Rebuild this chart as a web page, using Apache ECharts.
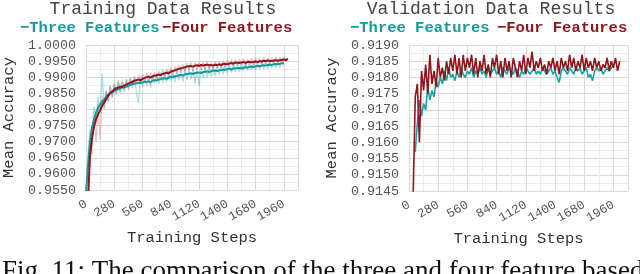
<!DOCTYPE html>
<html><head><meta charset="utf-8">
<script src="https://cdn.jsdelivr.net/npm/echarts@6/dist/echarts.min.js"></script>
<style>html,body{margin:0;padding:0;background:#fff}#c{width:640px;height:274px}</style>
</head><body><div id="c"></div><script>
const FONT = '"Liberation Mono", "Courier New", monospace';
const stepGap = 20;
const titles = ['Training Data Results', 'Validation Data Results'];
const legendNames = ['\u2212Three Features', '\u2212Four Features'];
const caption = 'Fig. 11: The comparison of the three and four feature based';

// Training, three features (smoothed + raw), steps 0..1960
const trainThreeStart = 0;
const trainThree = [0.9545,0.9625,0.9700,0.9745,0.9770,0.9790,0.9805,0.9815,0.9826,0.9830,
0.9840,0.9846,0.9851,0.9853,0.9858,0.9861,0.9863,0.9866,0.9868,0.9869,
0.9871,0.9874,0.9876,0.9879,0.9880,0.9881,0.9883,0.9882,0.9884,0.9885,
0.9886,0.9887,0.9885,0.9889,0.9891,0.9890,0.9893,0.9894,0.9896,0.9897,
0.9895,0.9899,0.9901,0.9900,0.9903,0.9904,0.9906,0.9907,0.9905,0.9909,
0.9910,0.9911,0.9912,0.9910,0.9913,0.9914,0.9915,0.9913,0.9916,0.9917,
0.9918,0.9916,0.9919,0.9920,0.9921,0.9919,0.9922,0.9922,0.9924,0.9923,
0.9925,0.9926,0.9924,0.9927,0.9928,0.9928,0.9929,0.9927,0.9930,0.9931,
0.9930,0.9932,0.9933,0.9932,0.9934,0.9935,0.9934,0.9936,0.9937,0.9936,
0.9938,0.9939,0.9938,0.9940,0.9941,0.9940,0.9942,0.9943,0.9944];
const trainThreeRaw = [0.9545,0.9660,0.9740,0.9720,0.9810,0.9765,0.9840,0.9790,0.9912,0.9805,
0.9860,0.9825,0.9875,0.9835,0.9880,0.9845,0.9890,0.9850,0.9885,0.9855,
0.9895,0.9860,0.9898,0.9865,0.9900,0.9850,0.9820,0.9905,0.9870,0.9900,
0.9872,0.9905,0.9868,0.9908,0.9880,0.9912,0.9878,0.9915,0.9882,0.9918,
0.9885,0.9920,0.9888,0.9915,0.9885,0.9922,0.9890,0.9925,0.9886,0.9926,
0.9892,0.9928,0.9895,0.9925,0.9880,0.9928,0.9872,0.9930,0.9898,0.9932,
0.9900,0.9934,0.9902,0.9935,0.9904,0.9936,0.9908,0.9938,0.9910,0.9940,
0.9912,0.9941,0.9914,0.9942,0.9915,0.9944,0.9916,0.9945,0.9918,0.9946,
0.9920,0.9947,0.9921,0.9948,0.9922,0.9949,0.9924,0.9950,0.9925,0.9951,
0.9926,0.9952,0.9928,0.9953,0.9929,0.9954,0.9930,0.9955,0.9935];

// Training, four features, steps 20..2000
const trainFourStart = 20;
const trainFour = [0.9520,0.9655,0.9712,0.9748,0.9770,0.9785,0.9797,0.9812,0.9822,0.9832,
0.9843,0.9850,0.9856,0.9862,0.9866,0.9868,0.9871,0.9870,0.9874,0.9877,
0.9880,0.9883,0.9886,0.9889,0.9891,0.9893,0.9890,0.9895,0.9898,0.9900,
0.9902,0.9899,0.9903,0.9905,0.9906,0.9908,0.9907,0.9910,0.9912,0.9914,
0.9913,0.9917,0.9920,0.9921,0.9924,0.9926,0.9928,0.9929,0.9931,0.9933,
0.9934,0.9935,0.9933,0.9936,0.9937,0.9935,0.9938,0.9936,0.9938,0.9939,
0.9937,0.9938,0.9936,0.9939,0.9938,0.9940,0.9938,0.9941,0.9942,0.9940,
0.9943,0.9944,0.9942,0.9945,0.9945,0.9944,0.9946,0.9947,0.9945,0.9947,
0.9948,0.9946,0.9948,0.9949,0.9947,0.9950,0.9949,0.9951,0.9950,0.9952,
0.9951,0.9950,0.9952,0.9953,0.9951,0.9953,0.9954,0.9955,0.9953,0.9957];
const trainFourRaw = [0.9520,0.9700,0.9660,0.9780,0.9700,0.9815,0.9705,0.9840,0.9800,0.9855,
0.9825,0.9870,0.9840,0.9880,0.9852,0.9885,0.9858,0.9890,0.9860,0.9892,
0.9866,0.9898,0.9872,0.9903,0.9878,0.9906,0.9880,0.9910,0.9885,0.9913,
0.9890,0.9915,0.9892,0.9916,0.9895,0.9920,0.9897,0.9923,0.9900,0.9925,
0.9903,0.9930,0.9908,0.9934,0.9912,0.9938,0.9915,0.9941,0.9918,0.9944,
0.9922,0.9946,0.9920,0.9945,0.9925,0.9946,0.9924,0.9947,0.9926,0.9948,
0.9925,0.9946,0.9927,0.9950,0.9928,0.9949,0.9930,0.9952,0.9932,0.9953,
0.9934,0.9955,0.9933,0.9955,0.9936,0.9956,0.9937,0.9958,0.9936,0.9957,
0.9939,0.9959,0.9938,0.9960,0.9940,0.9961,0.9941,0.9962,0.9942,0.9962,
0.9943,0.9961,0.9944,0.9963,0.9945,0.9963,0.9947,0.9964,0.9948,0.9960];

// Validation, three features, steps 60..1960
const valThreeStart = 60;
const valThree = [0.91570,0.91660,0.91730,0.91680,0.91720,0.91700,0.91770,0.91730,0.91760,0.91740,
0.91790,0.91770,0.91800,0.91780,0.91820,0.91790,0.91830,0.91800,0.91810,0.91790,
0.91820,0.91800,0.91830,0.91810,0.91800,0.91820,0.91810,0.91830,0.91800,0.91820,
0.91810,0.91830,0.91810,0.91820,0.91800,0.91830,0.91810,0.91820,0.91830,0.91810,
0.91820,0.91800,0.91830,0.91820,0.91810,0.91830,0.91820,0.91810,0.91830,0.91820,
0.91800,0.91820,0.91810,0.91830,0.91820,0.91810,0.91820,0.91830,0.91810,0.91820,
0.91810,0.91830,0.91820,0.91810,0.91820,0.91830,0.91810,0.91820,0.91800,0.91785,
0.91820,0.91830,0.91820,0.91810,0.91830,0.91820,0.91810,0.91830,0.91820,0.91830,
0.91810,0.91820,0.91830,0.91800,0.91810,0.91790,0.91820,0.91830,0.91820,0.91830,
0.91810,0.91820,0.91830,0.91820,0.91830,0.91840];

// Validation, four features, steps 40..2020
const valFourStart = 40;
const valFour = [0.91440,0.91740,0.91780,0.91600,0.91820,0.91760,0.91840,0.91750,0.91870,0.91780,
0.91820,0.91770,0.91860,0.91800,0.91830,0.91790,0.91850,0.91810,0.91860,0.91820,
0.91870,0.91810,0.91860,0.91800,0.91870,0.91820,0.91860,0.91830,0.91870,0.91810,
0.91860,0.91800,0.91850,0.91820,0.91870,0.91810,0.91840,0.91800,0.91860,0.91830,
0.91870,0.91810,0.91850,0.91800,0.91860,0.91820,0.91850,0.91800,0.91860,0.91830,
0.91800,0.91850,0.91820,0.91870,0.91810,0.91860,0.91830,0.91880,0.91820,0.91850,
0.91830,0.91860,0.91820,0.91840,0.91810,0.91850,0.91830,0.91860,0.91820,0.91850,
0.91810,0.91860,0.91830,0.91850,0.91820,0.91870,0.91830,0.91860,0.91820,0.91850,
0.91830,0.91870,0.91820,0.91860,0.91830,0.91850,0.91820,0.91860,0.91830,0.91850,
0.91820,0.91840,0.91830,0.91860,0.91820,0.91850,0.91830,0.91860,0.91820,0.91850];

const TEAL = '#17999a', RED = '#8e161d';
function pairs(start, vals){ return vals.map((v,i)=>[start+i*stepGap, v]); }

function xAxisCfg(g){
  return {type:'value', gridIndex:g, min:0, max:2100, interval:280,
    name:'Training Steps', nameLocation:'middle', nameGap:38,
    nameTextStyle:{fontFamily:FONT, fontSize:15.5, color:'#333'},
    axisLine:{show:false}, axisTick:{show:false},
    axisLabel:{rotate:30, fontFamily:FONT, fontSize:12.5, color:'#555', margin:13, showMaxLabel:false,
      formatter:v=>String(v)},
    splitLine:{show:true, lineStyle:{color:'#dadada', width:1}},
    minorTick:{show:false, splitNumber:2},
    minorSplitLine:{show:true, lineStyle:{color:'#ececec', width:1}}};
}
function yAxisCfg(g, mn, mx, iv){
  return {type:'value', gridIndex:g, min:mn, max:mx, interval:iv,
    name:'Mean Accuracy', nameLocation:'middle', nameGap:69,
    nameTextStyle:{fontFamily:FONT, fontSize:15.5, color:'#333'},
    axisLine:{show:false}, axisTick:{show:false},
    axisLabel:{fontFamily:FONT, fontSize:13.3, color:'#555', margin:10, formatter:v=>v.toFixed(4)},
    splitLine:{show:true, lineStyle:{color:'#dadada', width:1}},
    minorTick:{show:false, splitNumber:2},
    minorSplitLine:{show:true, lineStyle:{color:'#ececec', width:1}}};
}
function line(name, data, xi, color, width, z){
  return {type:'line', name, data, xAxisIndex:xi, yAxisIndex:xi, showSymbol:false, symbol:'none',
    lineStyle:{color, width}, itemStyle:{color}, z, clip:true};
}
function txt(x, y, text, color, size, weight, align){
  return {type:'text', x, y, style:{text, fill:color, font:(weight||'normal')+' '+size+'px '+FONT, textAlign:align||'left', textVerticalAlign:'middle'}};
}

const chart = echarts.init(document.getElementById('c'), null, {renderer:'canvas'});
chart.setOption({
  animation:false, backgroundColor:'#fff',
  grid:[{left:80, top:45, width:218, height:145}, {left:409, top:45, width:219, height:146}],
  xAxis:[xAxisCfg(0), xAxisCfg(1)],
  yAxis:[yAxisCfg(0, 0.955, 1.0, 0.005), yAxisCfg(1, 0.9145, 0.919, 0.0005)],
  series:[
    line('Three raw', pairs(trainThreeStart, trainThreeRaw), 0, 'rgba(40,175,175,0.4)', 1.3, 1),
    line('Four raw', pairs(trainFourStart, trainFourRaw), 0, 'rgba(190,90,100,0.35)', 1.3, 1),
    line('Three Features', pairs(trainThreeStart, trainThree), 0, TEAL, 2, 3),
    line('Four Features', pairs(trainFourStart, trainFour), 0, RED, 2, 4),
    line('Three Features', pairs(valThreeStart, valThree), 1, '#1aa3a3', 1.6, 3),
    line('Four Features', pairs(valFourStart, valFour), 1, RED, 1.6, 4)
  ],
  graphic:[
    txt(163, 9, titles[0], '#444', 18, 'normal', 'center'),
    txt(491, 9, titles[1], '#444', 18, 'normal', 'center'),
    txt(20, 28, legendNames[0], TEAL, 15.5, 'bold'),
    txt(162, 28, legendNames[1], RED, 15.5, 'bold'),
    txt(350, 28, legendNames[0], TEAL, 15.5, 'bold'),
    txt(497, 28, legendNames[1], RED, 15.5, 'bold'),
    {type:'text', x:2, y:258, style:{text:caption, fill:'#111', font:'27px "Liberation Serif", "Times New Roman", serif', textAlign:'left', textVerticalAlign:'top'}}
  ]
});
</script></body></html>
